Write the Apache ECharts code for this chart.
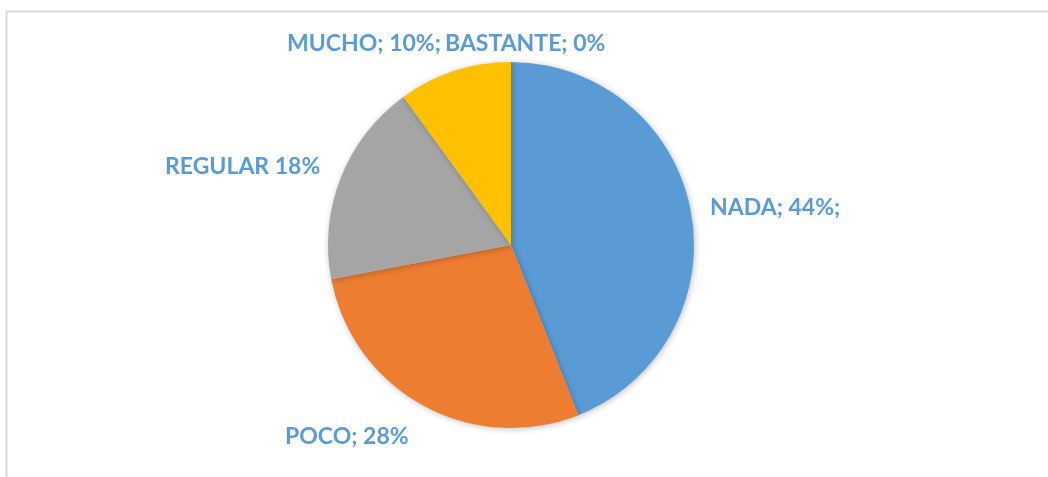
<!DOCTYPE html>
<html>
<head>
<meta charset="utf-8">
<script src="https://cdn.jsdelivr.net/npm/echarts@6/dist/echarts.min.js"></script>
<style>
html,body{margin:0;padding:0;background:#fff;}
#c{width:1048px;height:477px;}
</style>
</head>
<body>
<div id="c"></div>
<script>
var categories = ['NADA', 'POCO', 'REGULAR', 'MUCHO', 'BASTANTE'];
var values = [44, 28, 18, 10, 0];
var labelTexts = ['NADA; 44%;', 'POCO; 28%', 'REGULAR 18%', 'MUCHO; 10%;', 'BASTANTE; 0%'];
var colors = ['#5B9BD5', '#ED7D31', '#A5A5A5', '#FFC000', '#4472C4'];
var labelSpots = [[710, 208], [285, 437], [165, 167], [287, 44], [445, 44]];

var chart = echarts.init(document.getElementById('c'), null, {renderer: 'canvas'});
chart.setOption({
  animation: false,
  backgroundColor: '#fff',
  graphic: [{
    type: 'rect',
    shape: {x: 6.5, y: 11.5, width: 1100, height: 520},
    style: {fill: 'none', stroke: '#d9d9d9', lineWidth: 2},
    silent: true, z: -10
  }],
  series: [{
    type: 'pie',
    center: [511, 245],
    radius: 183,
    startAngle: 90,
    clockwise: true,
    minShowLabelAngle: 0,
    avoidLabelOverlap: false,
    itemStyle: {shadowBlur: 6, shadowColor: 'rgba(0,0,0,0.25)', shadowOffsetX: 1, shadowOffsetY: 1},
    label: {
      show: true,
      formatter: function (p) { return labelTexts[p.dataIndex]; },
      color: '#5B9BD5',
      fontFamily: 'Lato',
      fontWeight: 'bold',
      fontSize: 23
    },
    labelLine: {show: false},
    labelLayout: function (p) {
      var s = labelSpots[p.dataIndex];
      return {x: s[0], y: s[1], align: 'left', verticalAlign: 'middle'};
    },
    data: categories.map(function (c, i) {
      return {name: c, value: values[i], itemStyle: {color: colors[i]}};
    })
  }]
});
</script>
</body>
</html>
